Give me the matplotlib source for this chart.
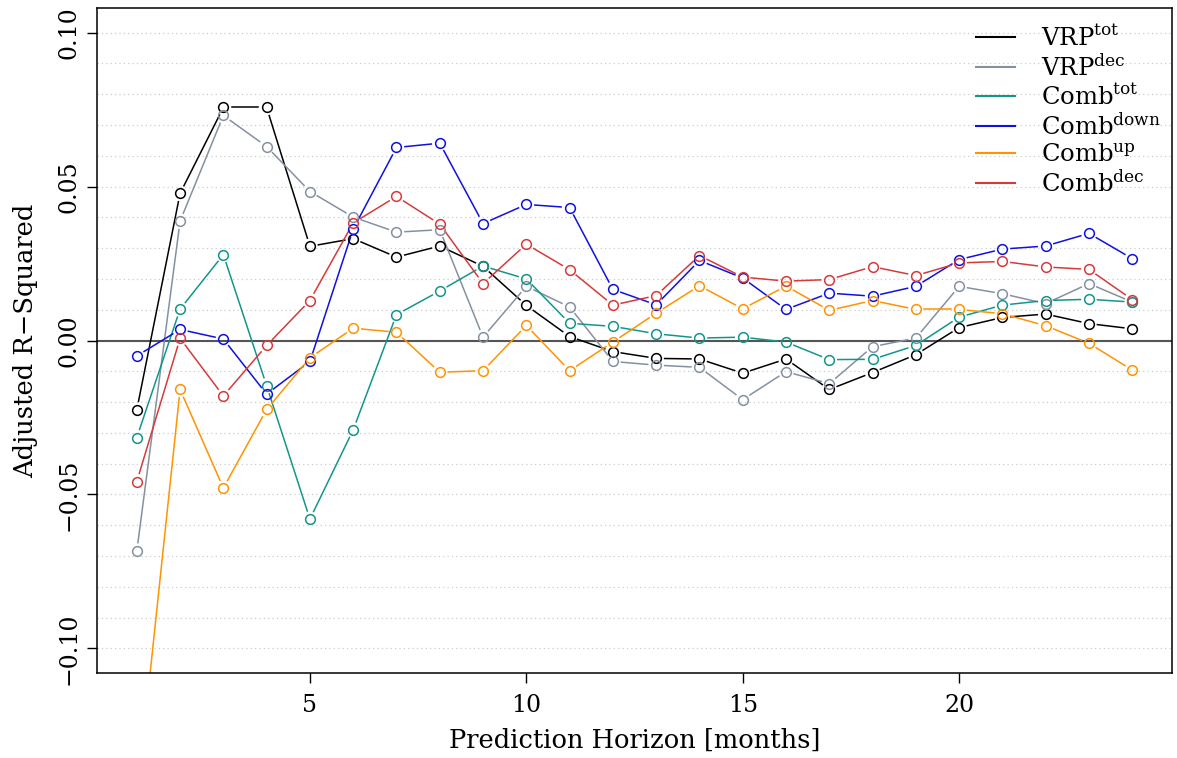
import matplotlib
matplotlib.use("Agg")
import matplotlib.pyplot as plt
import numpy as np

plt.rcParams['font.family'] = 'DejaVu Serif'
plt.rcParams['mathtext.fontset'] = 'dejavuserif'

# prediction horizon (months)
horizon = list(range(1, 25))

vrp_tot = [-0.0225, 0.0478, 0.0757, 0.0757, 0.0306, 0.0331, 0.0271, 0.0307,
           0.0241, 0.0114, 0.0013, -0.0036, -0.0058, -0.0060, -0.0106, -0.0060,
           -0.0159, -0.0104, -0.0046, 0.0042, 0.0075, 0.0086, 0.0055, 0.0038]
vrp_dec = [-0.0684, 0.0388, 0.0731, 0.0630, 0.0484, 0.0401, 0.0352, 0.0360,
           0.0011, 0.0176, 0.0109, -0.0068, -0.0080, -0.0087, -0.0192, -0.0101,
           -0.0140, -0.0020, 0.0008, 0.0176, 0.0152, 0.0120, 0.0185, 0.0125]
comb_tot = [-0.0315, 0.0102, 0.0279, -0.0147, -0.0580, -0.0290, 0.0084, 0.0161,
            0.0242, 0.0200, 0.0056, 0.0046, 0.0022, 0.0008, 0.0011, -0.0005,
            -0.0062, -0.0061, -0.0016, 0.0076, 0.0115, 0.0130, 0.0134, 0.0125]
comb_down = [-0.0050, 0.0036, 0.0005, -0.0174, -0.0068, 0.0362, 0.0627, 0.0641,
             0.0380, 0.0442, 0.0432, 0.0166, 0.0116, 0.0260, 0.0203, 0.0101,
             0.0154, 0.0144, 0.0176, 0.0263, 0.0297, 0.0307, 0.0348, 0.0266]
comb_up = [-0.1490, -0.0159, -0.0479, -0.0224, -0.0056, 0.0040, 0.0027, -0.0103,
           -0.0098, 0.0049, -0.0098, -0.0005, 0.0089, 0.0178, 0.0103, 0.0177,
           0.0098, 0.0130, 0.0101, 0.0101, 0.0087, 0.0048, -0.0009, -0.0096]
comb_dec = [-0.0458, 0.0007, -0.0180, -0.0016, 0.0130, 0.0382, 0.0468, 0.0378,
            0.0185, 0.0313, 0.0230, 0.0115, 0.0146, 0.0276, 0.0206, 0.0193,
            0.0198, 0.0240, 0.0211, 0.0252, 0.0257, 0.0239, 0.0231, 0.0133]

labels = [r'VRP$^{\mathrm{tot}}$', r'VRP$^{\mathrm{dec}}$', r'Comb$^{\mathrm{tot}}$',
          r'Comb$^{\mathrm{down}}$', r'Comb$^{\mathrm{up}}$', r'Comb$^{\mathrm{dec}}$']
colors = ['#000000', '#8591a0', '#12968c', '#1010e0', '#ff9300', '#d63a3a']
series = [vrp_tot, vrp_dec, comb_tot, comb_down, comb_up, comb_dec]

fig = plt.figure(figsize=(11.77, 7.58), dpi=100)
ax = fig.add_axes([0.0824, 0.1121, 0.9134, 0.8773])
ax.set_xlim(0.08, 24.92)
ax.set_ylim(-0.108, 0.108)

# dotted grid every 0.01
for g in np.arange(-0.10, 0.1001, 0.01):
    ax.axhline(g, color='#cccccc', lw=0.9, ls=(0, (1, 2.5)), zorder=0)
ax.axhline(0, color='#555555', lw=1.5, zorder=1)

fig.canvas.draw()
gap = 8.5  # pixel gap between line and circle (R type="b")
for vals, col, lab in zip(series, colors, labels):
    pts = ax.transData.transform(np.column_stack([horizon, vals]))
    for p, q in zip(pts[:-1], pts[1:]):
        d = q - p
        n = np.hypot(*d)
        if n <= 2 * gap:
            continue
        u = d / n
        seg = ax.transData.inverted().transform(np.array([p + u * gap, q - u * gap]))
        ax.plot(seg[:, 0], seg[:, 1], color=col, lw=1.1, zorder=2, clip_on=True)
    ax.plot(horizon, vals, ls='none', marker='o', ms=7, mfc='none', mec=col,
            mew=1.1, zorder=3)
    ax.plot([], [], color=col, lw=1.5, label=lab)

ax.set_xticks([5, 10, 15, 20])
ax.set_yticks([-0.10, -0.05, 0.00, 0.05, 0.10])
ax.set_yticklabels(['\u22120.10', '\u22120.05', '0.00', '0.05', '0.10'],
                   rotation=90, va='center')
ax.tick_params(labelsize=17, length=7, width=1)
ax.tick_params(axis='y', pad=5)
ax.tick_params(axis='x', pad=8)
for s in ax.spines.values():
    s.set_linewidth(1.1)

ax.set_xlabel('Prediction Horizon [months]', fontsize=18.5, labelpad=8)
ax.set_ylabel('Adjusted R\u2212Squared', fontsize=18.5, labelpad=14)

ax.legend(loc='upper right', frameon=False, fontsize=17.5, handlelength=1.6,
          handletextpad=1.1, labelspacing=0.16, borderaxespad=0.3,
          bbox_to_anchor=(1.006, 1.0))

fig.savefig('out.png', dpi=100)
